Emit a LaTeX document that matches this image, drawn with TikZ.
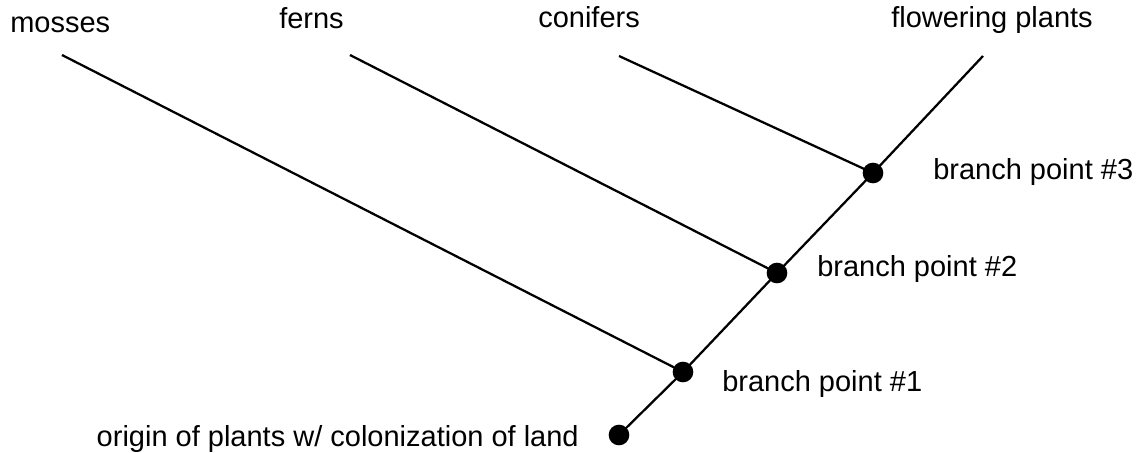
\documentclass[tikz,border=0pt]{standalone}
\usepackage{fontspec}
\setmainfont{Liberation Sans}
\usepackage{tikz}
\tikzstyle{branchdot} = [circle, fill=black, draw=none, inner sep=0pt, minimum size=15.5pt]
\tikzstyle{taxonlabel} = [inner sep=0pt, anchor=base west, font=\fontsize{21.75}{26}\selectfont]
\tikzstyle{pointlabel} = [inner sep=0pt, anchor=base west, font=\fontsize{21.75}{26}\selectfont]
\tikzstyle{branch} = [line width=1.7pt, draw=black]

\begin{document}
\begin{tikzpicture}[x=0.75pt, y=-0.75pt]
  \useasboundingbox (0,0) rectangle (1140,453);

  % === BRANCH POINTS ===
  \node (origin) [branchdot] at (619,435) {};
  \node (bp1) [branchdot] at (683,372) {};
  \node (bp2) [branchdot] at (777,273) {};
  \node (bp3) [branchdot] at (873,173) {};

  % === TIPS ===
  \coordinate (mossestip) at (62,55);
  \coordinate (fernstip) at (350,55);
  \coordinate (coniferstip) at (619,56);
  \coordinate (flowertip) at (983,56);

  % === TAXA ===
  \node (mosses) [taxonlabel] at (10,33) {mosses};
  \node (ferns) [taxonlabel] at (279,29) {ferns};
  \node (conifers) [taxonlabel] at (538,28) {conifers};
  \node (flowering) [taxonlabel] at (891,28) {flowering plants};

  % === BRANCH POINT LABELS ===
  \node (bp3lab) [pointlabel] at (933,180) {branch point \#3};
  \node (bp2lab) [pointlabel] at (817,276) {branch point \#2};
  \node (bp1lab) [pointlabel] at (722,391) {branch point \#1};
  \node (originlab) [pointlabel, anchor=base east] at (579,446)
    {origin of plants w/ colonization of land};

  % === BRANCHES ===
  \draw[branch] (origin.center) -- (bp1.center) -- (bp2.center)
    -- (bp3.center) -- (flowertip);
  \draw[branch] (mossestip) -- (bp1.center);
  \draw[branch] (fernstip) -- (bp2.center);
  \draw[branch] (coniferstip) -- (bp3.center);

\end{tikzpicture}
\end{document}
